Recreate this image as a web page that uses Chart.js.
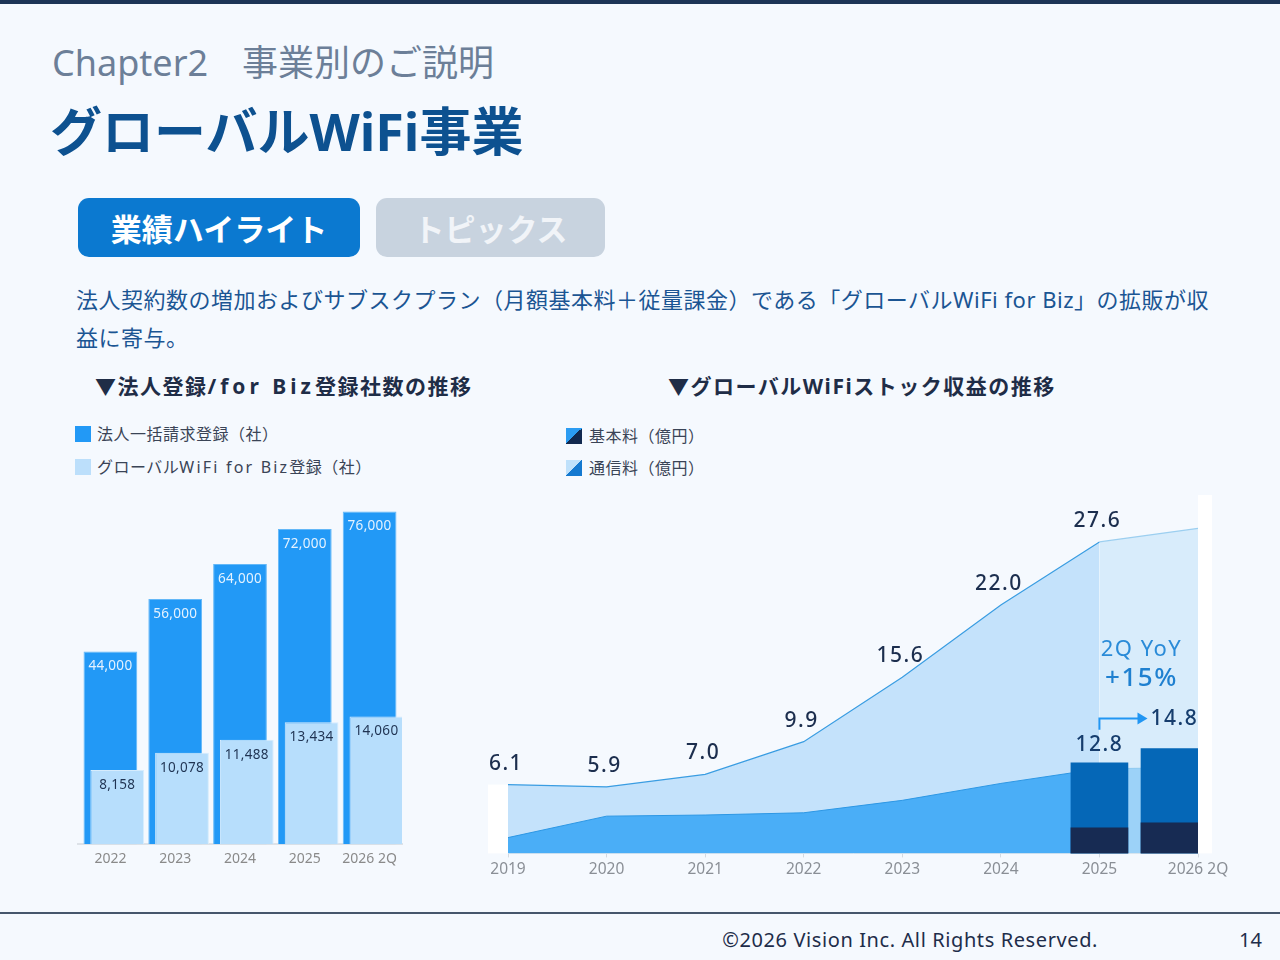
<!DOCTYPE html>
<html lang="ja">
<head>
<meta charset="utf-8">
<title>グローバルWiFi事業</title>
<script src="https://cdn.jsdelivr.net/npm/chart.js@4.4.1/dist/chart.umd.min.js"></script>
<style>
  html, body { margin: 0; padding: 0; }
  body { width: 1280px; height: 960px; position: relative; overflow: hidden; background: #f5f9fe; font-family: "Noto Sans", "Noto Sans CJK JP", sans-serif; }
  .abs { position: absolute; white-space: nowrap; }
  .topbar { left: 0; top: 0; width: 1280px; height: 4px; background: #1d3557; }
  .chapter { left: 52px; top: 42px; font-size: 36px; line-height: 42px; color: #6c7f98; }
  .chapter .en { margin-right: 34px; }
  .title { left: 50px; top: 100px; font-size: 52px; line-height: 62px; font-weight: 700; color: #0d5190; }
  .tab { top: 198px; height: 59px; border-radius: 11px; display: flex; align-items: center; justify-content: center; font-size: 31px; font-weight: 700; }
  .tab.on { left: 78px; width: 282px; background: #0b79d0; color: #fff; }
  .tab.off { left: 376px; width: 229px; background: #c8d3df; color: #f1f4f8; }
  .lead { left: 76px; top: 280px; font-size: 22px; line-height: 38px; color: #1b5593; letter-spacing: 0.5px; }
  .sec { top: 371px; font-size: 21px; line-height: 30px; font-weight: 700; color: #1f2d47; letter-spacing: 1.5px; }
  .sec .wide { letter-spacing: 4px; }
  .legend { font-size: 16px; line-height: 24px; color: #3a4456; display: flex; align-items: center; letter-spacing: 0.5px; }
  .legend i { display: inline-block; width: 16px; height: 16px; margin-right: 6px; }
  .legend .wide { letter-spacing: 2.2px; }
  .footline { left: 0; top: 912px; width: 1280px; height: 2px; background: #46566c; }
  .foot { top: 926px; font-size: 20px; line-height: 28px; color: #1e2d4a; }
</style>
</head>
<body>
<div class="abs topbar"></div>
<div class="abs chapter"><span class="en">Chapter2</span>事業別のご説明</div>
<div class="abs title">グローバルWiFi事業</div>
<div class="abs tab on">業績ハイライト</div>
<div class="abs tab off">トピックス</div>
<div class="abs lead">法人契約数の増加およびサブスクプラン（月額基本料＋従量課金）である「グローバルWiFi for Biz」の拡販が収<br>益に寄与。</div>

<div class="abs sec" style="left:95px">▼法人登録<span class="wide">/for Biz</span>登録社数の推移</div>
<div class="abs sec" style="left:668px">▼グローバルWiFiストック収益の推移</div>

<div class="abs legend" style="left:75px;top:422px"><i style="background:#2299f6"></i>法人一括請求登録（社）</div>
<div class="abs legend" style="left:75px;top:455px"><i style="background:#bcdffb"></i>グローバル<span class="wide">WiFi for Biz</span>登録（社）</div>
<div class="abs legend" style="left:566px;top:424px"><i style="margin-right:7px;background:linear-gradient(to bottom right,#2b9cf2 50%,#12294f 50%)"></i>基本料（億円）</div>
<div class="abs legend" style="left:566px;top:456px"><i style="margin-right:7px;background:linear-gradient(to bottom right,#bfe1fb 50%,#1479d0 50%)"></i>通信料（億円）</div>

<div class="abs" style="left:60px;top:490px"><canvas id="corpChart" width="360" height="387"></canvas></div>
<div class="abs" style="left:470px;top:490px"><canvas id="stockChart" width="780" height="397"></canvas></div>

<div class="abs footline"></div>
<div class="abs foot" style="right:182px;letter-spacing:0.6px">©2026 Vision Inc. All Rights Reserved.</div>
<div class="abs foot" style="right:18px">14</div>

<script>
// 法人登録 / for Biz 登録社数
const corpYears = ['2022', '2023', '2024', '2025', '2026 2Q'];
const corpBilling = [44000, 56000, 64000, 72000, 76000];
const bizRegistered = [8158, 10078, 11488, 13434, 14060];

// ストック収益（億円）
const stockYears = ['2019', '2020', '2021', '2022', '2023', '2024', '2025', '2026 2Q'];
const stockTotal = [6.1, 5.9, 7.0, 9.9, 15.6, 22.0, 27.6, 28.8];
const stockBase = [1.4, 3.3, 3.4, 3.6, 4.7, 6.2, 7.5, 7.6];
// 上期(2Q)実績
const halfTotal = [null, null, null, null, null, null, 12.8, 14.8];
const halfBase = [null, null, null, null, null, null, 3.6, 4.3];
const yoyText = ['2Q YoY', '+15%'];

const FONT = '"Noto Sans", "Noto Sans CJK JP", sans-serif';
Chart.defaults.font.family = FONT;

// 左: バー内側の数値
const insideLabels = {
  id: 'insideLabels',
  afterDatasetsDraw(chart) {
    const ctx = chart.ctx;
    ctx.save();
    ctx.font = '400 13.5px ' + FONT;
    ctx.textAlign = 'center';
    ctx.textBaseline = 'middle';
    ctx.letterSpacing = '0.3px';
    chart.data.datasets.forEach((ds, i) => {
      if (!ds.labelColor) return;
      ctx.fillStyle = ds.labelColor;
      chart.getDatasetMeta(i).data.forEach((bar, j) => {
        ctx.fillText(ds.data[j].toLocaleString('en-US'), bar.x, bar.y + 15);
      });
    });
    ctx.restore();
  }
};

// 棒を並べる位置用の空データ
const none = corpYears.map(() => null);

new Chart(document.getElementById('corpChart'), {
  type: 'bar',
  data: {
    labels: corpYears,
    datasets: [
      { label: '', data: none, stack: 'lead', order: -3 },
      { label: '', data: none, stack: 'main', order: -2 },
      { label: 'グローバルWiFi for Biz登録(社)', data: bizRegistered, yAxisID: 'y2', stack: 'biz', order: -1,
        backgroundColor: '#b7defc', borderColor: '#d6ecfd', borderWidth: 1, labelColor: '#1f3352' },
      { label: '法人一括請求登録(社)', data: corpBilling, yAxisID: 'y', stack: 'main', order: 0,
        backgroundColor: '#2299f6', borderColor: '#63b8f8', borderWidth: 1, labelColor: '#e4f2ff' }
    ]
  },
  options: {
    responsive: false,
    animation: false,
    datasets: { bar: { categoryPercentage: 0.315, barPercentage: 7.9 } },
    layout: { padding: { left: 18, right: 18, top: 0, bottom: 4 } },
    plugins: { legend: { display: false }, tooltip: { enabled: false } },
    scales: {
      x: {
        grid: { display: true, drawOnChartArea: false, drawTicks: false },
        border: { color: '#dde2e8', width: 2 },
        ticks: { color: '#8a8a8a', font: { size: 14 }, padding: 6, maxRotation: 0 }
      },
      y: { type: 'linear', display: false, min: 0, max: 80900, stacked: false },
      y2: { type: 'linear', display: false, min: 0, max: 39000, stacked: false }
    }
  },
  plugins: [insideLabels]
});

// 右: 注記・数値
const prevIdx = halfTotal.findIndex(v => v !== null);
const curIdx = halfTotal.length - 1;
const halfSpacer = halfTotal.map((v, i) => (i === curIdx ? 0 : null));

const stockExtras = {
  id: 'stockExtras',
  beforeDatasetsDraw(chart) {
    const { ctx, chartArea } = chart;
    const first = chart.getDatasetMeta(4).data[0];
    ctx.save();
    ctx.fillStyle = '#ffffff';
    ctx.fillRect(chartArea.left - 20, first.y, 20, chartArea.bottom - first.y);
    ctx.fillRect(chartArea.right, chartArea.top + 5, 14, chartArea.bottom - chartArea.top - 5);
    ctx.restore();
  },
  afterDatasetsDraw(chart) {
    const ctx = chart.ctx;
    const pts = chart.getDatasetMeta(4).data;
    const bars = chart.getDatasetMeta(1).data;
    ctx.save();
    ctx.textAlign = 'center';
    ctx.textBaseline = 'middle';
    ctx.letterSpacing = '1.5px';
    ctx.font = '500 21px ' + FONT;
    ctx.fillStyle = '#1c2e4e';
    stockTotal.forEach((v, i) => {
      if (i === curIdx) return;
      ctx.fillText(v.toFixed(1), pts[i].x - 2, pts[i].y - 21);
    });

    const a = bars[prevIdx], b = bars[curIdx];
    ctx.fillStyle = '#163d6d';
    ctx.fillText(halfTotal[prevIdx].toFixed(1), a.x, a.y - 18);

    const arrowY = b.y - 30;
    const tipX = b.x - 22;
    ctx.strokeStyle = '#2196f3';
    ctx.lineWidth = 2;
    ctx.beginPath();
    ctx.moveTo(a.x, a.y - 33);
    ctx.lineTo(a.x, arrowY);
    ctx.lineTo(tipX - 9, arrowY);
    ctx.stroke();
    ctx.fillStyle = '#2196f3';
    ctx.beginPath();
    ctx.moveTo(tipX, arrowY);
    ctx.lineTo(tipX - 10, arrowY - 6);
    ctx.lineTo(tipX - 10, arrowY + 6);
    ctx.closePath();
    ctx.fill();

    ctx.textAlign = 'left';
    ctx.fillStyle = '#163d6d';
    ctx.fillText(halfTotal[curIdx].toFixed(1), tipX + 3, arrowY);

    ctx.textAlign = 'center';
    ctx.font = '400 22px ' + FONT;
    ctx.fillStyle = '#2a8bd8';
    ctx.fillText(yoyText[0], b.x - 28, b.y - 99);
    ctx.font = '500 26px ' + FONT;
    ctx.fillStyle = '#1f80d0';
    ctx.fillText(yoyText[1], b.x - 28, b.y - 70);
    ctx.restore();
  }
};

const lastSeg = (color) => (c) => (c.p0DataIndex === prevIdx ? color : undefined);

new Chart(document.getElementById('stockChart'), {
  type: 'bar',
  data: {
    labels: stockYears,
    datasets: [
      { type: 'bar', label: '基本料(億円) 2Q', data: halfBase, yAxisID: 'yb', stack: 'half', order: -3,
        backgroundColor: '#172b53', barThickness: 57, skipNull: true },
      { type: 'bar', label: '通信料(億円) 2Q', data: halfTotal, yAxisID: 'yb', stack: 'half', order: -2,
        backgroundColor: '#0567b7', barThickness: 57, skipNull: true },
      { type: 'bar', label: '', data: halfSpacer, yAxisID: 'yb', stack: 'pad', order: -1,
        backgroundColor: 'rgba(0,0,0,0)', barThickness: 57, skipNull: true },
      { type: 'line', label: '基本料(億円)', data: stockBase, yAxisID: 'y', order: 0, fill: 'origin',
        backgroundColor: '#4aaef7', borderColor: '#2d97e4', borderWidth: 1, pointRadius: 0, tension: 0,
        segment: { backgroundColor: lastSeg('#9cd2f8'), borderColor: lastSeg('#8ec9f0') } },
      { type: 'line', label: '通信料(億円)', data: stockTotal, yAxisID: 'y', order: 1, fill: 'origin',
        backgroundColor: '#c4e2fb', borderColor: '#3a9de2', borderWidth: 1.2, pointRadius: 0, tension: 0,
        segment: { backgroundColor: lastSeg('#d8ecfb'), borderColor: lastSeg('#9ccff0') } }
    ]
  },
  options: {
    responsive: false,
    animation: false,
    layout: { padding: { left: 38, right: 52, top: 0, bottom: 5 } },
    plugins: { legend: { display: false }, tooltip: { enabled: false } },
    scales: {
      x: {
        offset: false,
        grid: { display: true, offset: false, drawOnChartArea: false, drawTicks: true, tickLength: 4, color: '#d3d9e0' },
        border: { color: '#e1e6ec' },
        ticks: { color: '#8a8f96', font: { size: 15.5 }, padding: 3, maxRotation: 0, autoSkip: false }
      },
      y: { type: 'linear', display: false, min: 0, max: 32.2, stacked: false },
      yb: { type: 'linear', display: false, min: 0, max: 51.3, stacked: false }
    }
  },
  plugins: [stockExtras]
});
</script>
</body>
</html>
